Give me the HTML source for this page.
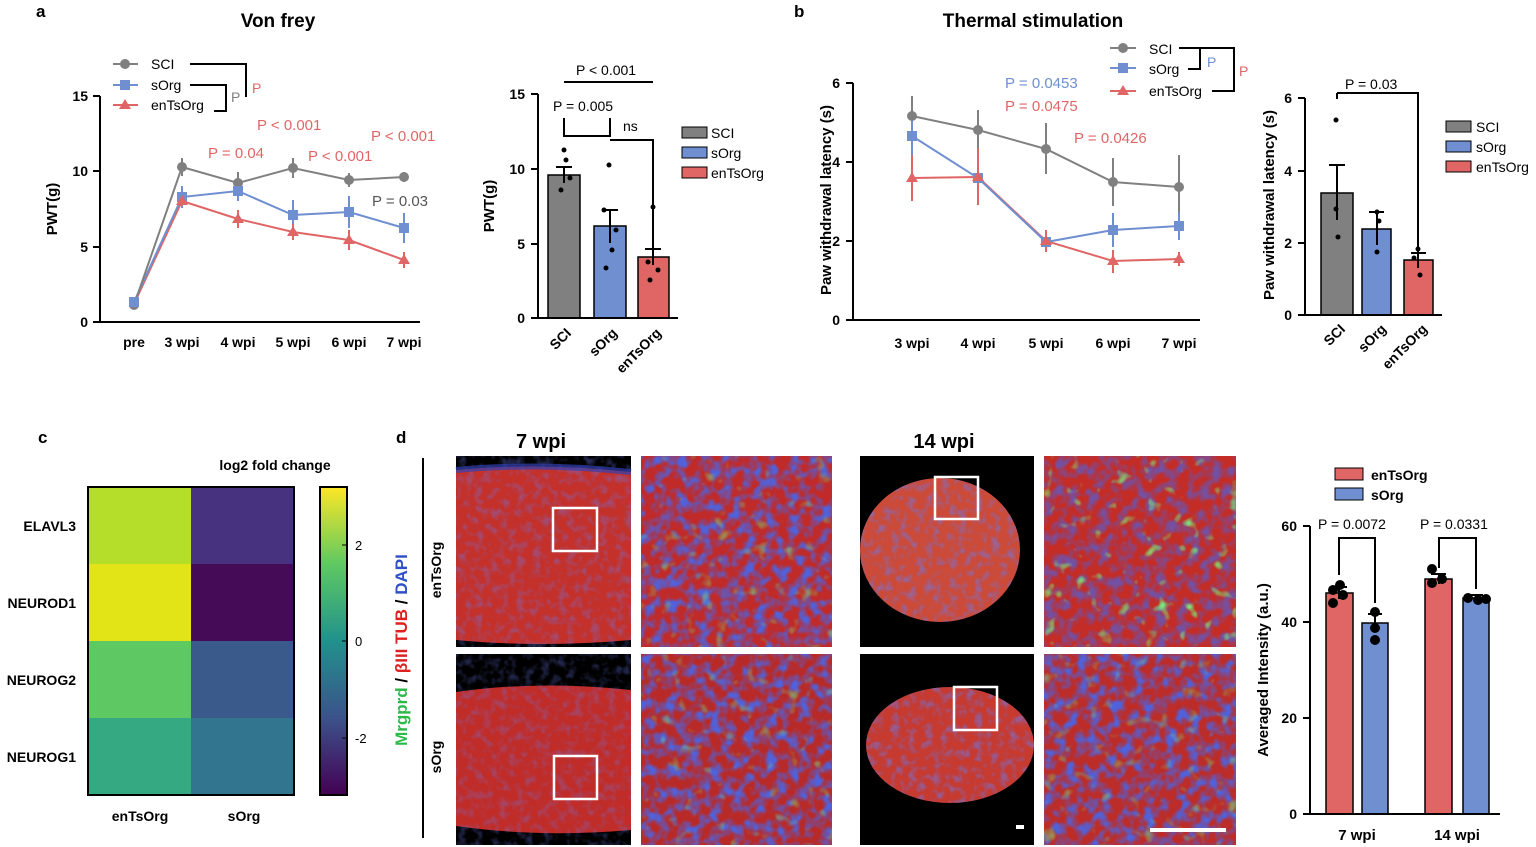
<!DOCTYPE html>
<html><head><meta charset="utf-8"><style>
body{margin:0;background:#fff}
svg{display:block;font-family:"Liberation Sans",Arial,sans-serif}
</style></head><body>
<svg width="1536" height="847" viewBox="0 0 1536 847" xmlns="http://www.w3.org/2000/svg">
<defs>
<linearGradient id="vir" x1="0" y1="1" x2="0" y2="0">
<stop offset="0" stop-color="#440154"/><stop offset="0.25" stop-color="#3b528b"/><stop offset="0.5" stop-color="#21918c"/><stop offset="0.75" stop-color="#5ec962"/><stop offset="1" stop-color="#fde725"/>
</linearGradient>
<filter id="blu" x="0" y="0" width="100%" height="100%">
<feTurbulence type="fractalNoise" baseFrequency="0.12" numOctaves="2" seed="3"/>
<feColorMatrix values="0 0 0 0 0.15  0 0 0 0 0.2  0 0 0 0 0.85  3 0 0 0 -1.35"/>
</filter>
<filter id="blu2" x="0" y="0" width="100%" height="100%">
<feTurbulence type="fractalNoise" baseFrequency="0.09" numOctaves="2" seed="9"/>
<feColorMatrix values="0 0 0 0 0.08  0 0 0 0 0.12  0 0 0 0 0.7  3 0 0 0 -1.2"/>
</filter>
<filter id="grn" x="0" y="0" width="100%" height="100%">
<feTurbulence type="fractalNoise" baseFrequency="0.07" numOctaves="2" seed="21"/>
<feColorMatrix values="0 0 0 0 0.2  0 0 0 0 0.85  0 0 0 0 0.2  0 4 0 0 -2.5"/>
</filter>
<clipPath id="c1"><ellipse cx="940" cy="550" rx="80" ry="72"/></clipPath>
<clipPath id="c2"><ellipse cx="950" cy="745" rx="84" ry="58"/></clipPath>
</defs>
<g font-weight="bold" font-size="17" fill="#000">
<text x="36" y="17">a</text><text x="794" y="17">b</text><text x="38" y="443">c</text><text x="396" y="443">d</text>
</g>
<text x="278" y="27" font-size="19" font-weight="bold" text-anchor="middle">Von frey</text>
<text x="1033" y="27" font-size="19" font-weight="bold" text-anchor="middle">Thermal stimulation</text>

<g stroke="#000" stroke-width="2" fill="none">
<path d="M100 96V322H420"/>
<path d="M93 96H100M93 171H100M93 247H100M93 322H100"/>
</g>
<g font-size="14" font-weight="bold" text-anchor="end"><text x="88" y="101">15</text><text x="88" y="176">10</text><text x="88" y="252">5</text><text x="88" y="327">0</text></g>
<text transform="translate(57,209) rotate(-90)" font-size="15" font-weight="bold" text-anchor="middle">PWT(g)</text>
<g font-size="14" font-weight="bold" text-anchor="middle">
<text x="134" y="347">pre</text><text x="182" y="347">3 wpi</text><text x="238" y="347">4 wpi</text><text x="293" y="347">5 wpi</text><text x="349" y="347">6 wpi</text><text x="404" y="347">7 wpi</text></g>
<g stroke-width="2" fill="none">
<polyline stroke="#e06666" points="134,304 182,201 238,219 293,232 349,240 404,260"/>
<polyline stroke="#6f8fd0" points="134,302 182,197 238,191 293,215 349,212 404,228"/>
<polyline stroke="#808080" points="134,305 182,167 238,183 293,168 349,180 404,177"/>
<path stroke="#808080" d="M182 158V176M238 172V194M293 158V178M349 173V187M404 172V182"/>
<path stroke="#6f8fd0" d="M182 186V208M238 181V201M293 200V230M349 196V228M404 213V243"/>
<path stroke="#e06666" d="M182 196V206M238 210V228M293 224V240M349 230V250M404 252V268"/>
</g>
<g fill="#808080"><circle cx="134" cy="305" r="5"/><circle cx="182" cy="167" r="5"/><circle cx="238" cy="183" r="5"/><circle cx="293" cy="168" r="5"/><circle cx="349" cy="180" r="5"/><circle cx="404" cy="177" r="5"/></g>
<g fill="#6f8fd0"><rect x="129" y="297" width="10" height="10"/><rect x="177" y="192" width="10" height="10"/><rect x="233" y="186" width="10" height="10"/><rect x="288" y="210" width="10" height="10"/><rect x="344" y="207" width="10" height="10"/><rect x="399" y="223" width="10" height="10"/></g>
<g fill="#e06666"><path d="M182 195l6 10h-12z M238 213l6 10h-12z M293 226l6 10h-12z M349 234l6 10h-12z M404 254l6 10h-12z"/></g>
<g stroke-width="2"><path stroke="#808080" d="M113 64H138"/><path stroke="#6f8fd0" d="M113 85H138"/><path stroke="#e06666" d="M113 105H138"/></g>
<circle cx="125" cy="64" r="5" fill="#808080"/><rect x="120" y="80" width="10" height="10" fill="#6f8fd0"/><path d="M125 99l6 10h-12z" fill="#e06666"/>
<g font-size="14"><text x="151" y="69">SCI</text><text x="151" y="90">sOrg</text><text x="151" y="110">enTsOrg</text></g>
<path d="M190 64H246V97M190 85H226V111H214" stroke="#000" stroke-width="2" fill="none"/>
<text x="231" y="102" font-size="14" fill="#808080">P</text><text x="252" y="93" font-size="14" fill="#e06666">P</text>
<g font-size="15" fill="#e06666"><text x="257" y="130">P &lt; 0.001</text><text x="371" y="141">P &lt; 0.001</text><text x="208" y="158">P = 0.04</text><text x="308" y="161">P &lt; 0.001</text></g>
<text x="372" y="206" font-size="15" fill="#555">P = 0.03</text>

<rect x="548" y="175" width="32" height="143" fill="#808080" stroke="#000" stroke-width="1.5"/>
<rect x="594" y="226" width="32" height="92" fill="#6f8fd0" stroke="#000" stroke-width="1.5"/>
<rect x="638" y="257" width="31" height="61" fill="#e06666" stroke="#000" stroke-width="1.5"/>
<g stroke="#000" stroke-width="2" fill="none">
<path d="M538 94V318H678M531 94H538M531 169H538M531 244H538M531 318H538"/>
<path d="M556 167H572M564 167V183M602 210H618M610 210V243M645 249H661M653 249V265"/>
<path d="M564 118V136H610V118M564 82H653M610 140H653V248"/>
</g>
<g fill="#000"><circle cx="564" cy="150" r="2.5"/><circle cx="566" cy="160" r="2.5"/><circle cx="561" cy="190" r="2.5"/><circle cx="570" cy="178" r="2.5"/><circle cx="609" cy="165" r="2.5"/><circle cx="604" cy="210" r="2.5"/><circle cx="612" cy="250" r="2.5"/><circle cx="606" cy="268" r="2.5"/><circle cx="616" cy="230" r="2.5"/><circle cx="653" cy="207" r="2.5"/><circle cx="648" cy="262" r="2.5"/><circle cx="658" cy="270" r="2.5"/><circle cx="650" cy="280" r="2.5"/></g>
<g font-size="14" font-weight="bold" text-anchor="end"><text x="525" y="99">15</text><text x="525" y="174">10</text><text x="525" y="249">5</text><text x="525" y="323">0</text></g>
<text transform="translate(494,206) rotate(-90)" font-size="15" font-weight="bold" text-anchor="middle">PWT(g)</text>
<g font-size="14" font-weight="bold" text-anchor="end">
<text transform="translate(572,334) rotate(-45)">SCI</text><text transform="translate(618,334) rotate(-45)">sOrg</text><text transform="translate(662,334) rotate(-45)">enTsOrg</text></g>
<g font-size="14"><text x="576" y="75">P &lt; 0.001</text><text x="553" y="111">P = 0.005</text><text x="623" y="131">ns</text></g>
<rect x="682" y="127" width="25" height="11" fill="#808080" stroke="#000"/><rect x="682" y="147" width="25" height="11" fill="#6f8fd0" stroke="#000"/><rect x="682" y="167" width="25" height="11" fill="#e06666" stroke="#000"/>
<g font-size="14"><text x="711" y="138">SCI</text><text x="711" y="158">sOrg</text><text x="711" y="178">enTsOrg</text></g>

<g stroke="#000" stroke-width="2" fill="none">
<path d="M853 83V320H1200M846 83H853M846 162H853M846 241H853M846 320H853"/>
</g>
<g font-size="14" font-weight="bold" text-anchor="end"><text x="840" y="88">6</text><text x="840" y="167">4</text><text x="840" y="246">2</text><text x="840" y="325">0</text></g>
<text transform="translate(831,200) rotate(-90)" font-size="15" font-weight="bold" text-anchor="middle">Paw withdrawal latency (s)</text>
<g font-size="14" font-weight="bold" text-anchor="middle"><text x="912" y="348">3 wpi</text><text x="978" y="348">4 wpi</text><text x="1046" y="348">5 wpi</text><text x="1113" y="348">6 wpi</text><text x="1179" y="348">7 wpi</text></g>
<g stroke-width="2" fill="none">
<polyline stroke="#e06666" points="912,178 978,177 1046,241 1113,261 1179,259"/>
<polyline stroke="#6f8fd0" points="912,136 978,178 1046,242 1113,230 1179,226"/>
<polyline stroke="#808080" points="912,116 978,130 1046,149 1113,182 1179,187"/>
<path stroke="#808080" d="M912 96V136M978 110V150M1046 123V174M1113 158V206M1179 155V219"/>
<path stroke="#6f8fd0" d="M912 118V155M978 150V205M1046 236V248M1113 213V247M1179 212V240"/>
<path stroke="#e06666" d="M912 155V201M978 148V205M1046 230V252M1113 250V273M1179 252V266"/>
</g>
<g fill="#808080"><circle cx="912" cy="116" r="5"/><circle cx="978" cy="130" r="5"/><circle cx="1046" cy="149" r="5"/><circle cx="1113" cy="182" r="5"/><circle cx="1179" cy="187" r="5"/></g>
<g fill="#6f8fd0"><rect x="907" y="131" width="10" height="10"/><rect x="973" y="173" width="10" height="10"/><rect x="1041" y="237" width="10" height="10"/><rect x="1108" y="225" width="10" height="10"/><rect x="1174" y="221" width="10" height="10"/></g>
<path fill="#e06666" d="M912 172l6 10h-12z M978 171l6 10h-12z M1046 235l6 10h-12z M1113 255l6 10h-12z M1179 253l6 10h-12z"/>
<g stroke-width="2"><path stroke="#808080" d="M1110 48H1136"/><path stroke="#6f8fd0" d="M1110 68H1136"/><path stroke="#e06666" d="M1110 91H1136"/></g>
<circle cx="1123" cy="48" r="5" fill="#808080"/><rect x="1118" y="63" width="10" height="10" fill="#6f8fd0"/><path d="M1123 85l6 10h-12z" fill="#e06666"/>
<g font-size="14"><text x="1149" y="54">SCI</text><text x="1149" y="74">sOrg</text><text x="1149" y="96">enTsOrg</text></g>
<path d="M1179 48H1234V91H1212M1185 48H1200V69H1188" stroke="#000" stroke-width="2" fill="none"/>
<text x="1207" y="67" font-size="14" fill="#6f8fd0">P</text><text x="1239" y="76" font-size="14" fill="#e06666">P</text>
<g font-size="15"><text x="1005" y="88" fill="#6f8fd0">P = 0.0453</text><text x="1005" y="111" fill="#e06666">P = 0.0475</text><text x="1074" y="143" fill="#e06666">P = 0.0426</text></g>

<rect x="1321" y="193" width="32" height="122" fill="#808080" stroke="#000" stroke-width="1.5"/>
<rect x="1362" y="229" width="29" height="86" fill="#6f8fd0" stroke="#000" stroke-width="1.5"/>
<rect x="1404" y="260" width="29" height="55" fill="#e06666" stroke="#000" stroke-width="1.5"/>
<g stroke="#000" stroke-width="2" fill="none">
<path d="M1305 98V315H1442M1298 98H1305M1298 171H1305M1298 243H1305M1298 315H1305"/>
<path d="M1329 165H1345M1337 165V220M1369 212H1384M1377 212V245M1411 253H1426M1418 253V268M1337 93V99M1337 93H1418V253"/>
</g>
<g fill="#000"><circle cx="1336" cy="120" r="2.5"/><circle cx="1336" cy="209" r="2.5"/><circle cx="1338" cy="237" r="2.5"/><circle cx="1377" cy="212" r="2.5"/><circle cx="1379" cy="221" r="2.5"/><circle cx="1377" cy="252" r="2.5"/><circle cx="1418" cy="249" r="2.5"/><circle cx="1414" cy="258" r="2.5"/><circle cx="1420" cy="275" r="2.5"/></g>
<g font-size="14" font-weight="bold" text-anchor="end"><text x="1292" y="103">6</text><text x="1292" y="176">4</text><text x="1292" y="248">2</text><text x="1292" y="320">0</text></g>
<text transform="translate(1274,205) rotate(-90)" font-size="15" font-weight="bold" text-anchor="middle">Paw withdrawal latency (s)</text>
<g font-size="14" font-weight="bold" text-anchor="end">
<text transform="translate(1346,330) rotate(-45)">SCI</text><text transform="translate(1387,330) rotate(-45)">sOrg</text><text transform="translate(1428,330) rotate(-45)">enTsOrg</text></g>
<text x="1345" y="89" font-size="14">P = 0.03</text>
<rect x="1446" y="121" width="25" height="11" fill="#808080" stroke="#000"/><rect x="1446" y="141" width="25" height="11" fill="#6f8fd0" stroke="#000"/><rect x="1446" y="161" width="25" height="11" fill="#e06666" stroke="#000"/>
<g font-size="14"><text x="1476" y="132">SCI</text><text x="1476" y="152">sOrg</text><text x="1476" y="172">enTsOrg</text></g>

<rect x="88" y="487" width="103" height="77" fill="#b5de2b"/><rect x="191" y="487" width="103" height="77" fill="#46327e"/>
<rect x="88" y="564" width="103" height="77" fill="#e2e418"/><rect x="191" y="564" width="103" height="77" fill="#450b57"/>
<rect x="88" y="641" width="103" height="77" fill="#5ec962"/><rect x="191" y="641" width="103" height="77" fill="#3a5a8c"/>
<rect x="88" y="718" width="103" height="77" fill="#35a982"/><rect x="191" y="718" width="103" height="77" fill="#31768e"/>
<rect x="88" y="487" width="206" height="308" fill="none" stroke="#000" stroke-width="2"/>
<g font-size="14" font-weight="bold" text-anchor="end"><text x="76" y="531">ELAVL3</text><text x="76" y="608">NEUROD1</text><text x="76" y="685">NEUROG2</text><text x="76" y="762">NEUROG1</text></g>
<g font-size="14" font-weight="bold" text-anchor="middle"><text x="140" y="821">enTsOrg</text><text x="244" y="821">sOrg</text></g>
<text x="275" y="470" font-size="14" font-weight="bold" text-anchor="middle">log2 fold change</text>
<rect x="320" y="487" width="27" height="308" fill="url(#vir)" stroke="#000" stroke-width="2"/>
<g font-size="13" fill="#000"><text x="355" y="550">2</text><text x="355" y="646">0</text><text x="355" y="743">-2</text></g>
<path d="M347 545h-5M347 641h-5M347 738h-5" stroke="#000"/>

<text x="541" y="448" font-size="20" font-weight="bold" text-anchor="middle">7 wpi</text>
<text x="944" y="448" font-size="20" font-weight="bold" text-anchor="middle">14 wpi</text>
<path d="M423 458V838" stroke="#000" stroke-width="2"/>
<text transform="translate(441,570) rotate(-90)" font-size="14" font-weight="bold" text-anchor="middle">enTsOrg</text>
<text transform="translate(441,757) rotate(-90)" font-size="14" font-weight="bold" text-anchor="middle">sOrg</text>
<text transform="translate(407,650) rotate(-90)" font-size="17" font-weight="bold" text-anchor="middle"><tspan fill="#2db84a">Mrgprd</tspan><tspan fill="#000"> / </tspan><tspan fill="#e02020">βIII TUB</tspan><tspan fill="#000"> / </tspan><tspan fill="#3050c8">DAPI</tspan></text>

<rect x="456" y="456" width="175" height="191" fill="#000"/>
<path d="M456 470 Q540 462 631 472 V640 Q540 648 456 640Z" fill="#c4302a"/>
<rect x="456" y="456" width="175" height="191" fill="#000" filter="url(#blu)" opacity="0.35"/>
<path d="M456 470 Q540 462 631 472" stroke="#3040b0" stroke-width="6" fill="none" opacity="0.7"/>
<rect x="641" y="456" width="191" height="191" fill="#c02a28"/>
<rect x="641" y="456" width="191" height="191" filter="url(#blu2)"/>
<rect x="641" y="456" width="191" height="191" filter="url(#grn)" opacity="0.5"/>
<rect x="456" y="654" width="175" height="191" fill="#000"/>
<path d="M456 692 Q540 680 631 690 V830 Q540 838 456 826Z" fill="#c02c28"/>
<rect x="456" y="654" width="175" height="191" fill="#000" filter="url(#blu)" opacity="0.3"/>
<rect x="641" y="654" width="191" height="191" fill="#b82a28"/>
<rect x="641" y="654" width="191" height="191" filter="url(#blu2)"/>
<rect x="641" y="654" width="191" height="191" filter="url(#grn)" opacity="0.5"/>
<rect x="860" y="456" width="174" height="191" fill="#000"/>
<g clip-path="url(#c1)"><rect x="860" y="470" width="174" height="160" fill="#cc4a38"/><rect x="860" y="470" width="174" height="160" filter="url(#blu)" opacity="0.5"/></g>
<rect x="1044" y="456" width="192" height="191" fill="#c42c26"/>
<rect x="1044" y="456" width="192" height="191" filter="url(#blu2)" opacity="0.7"/>
<rect x="1044" y="456" width="192" height="191" filter="url(#grn)"/>
<rect x="860" y="654" width="174" height="191" fill="#000"/>
<g clip-path="url(#c2)"><rect x="860" y="680" width="174" height="130" fill="#c63a30"/><rect x="860" y="680" width="174" height="130" filter="url(#blu)" opacity="0.5"/></g>
<rect x="1044" y="654" width="192" height="191" fill="#bc2c28"/>
<rect x="1044" y="654" width="192" height="191" filter="url(#blu2)"/>
<rect x="1044" y="654" width="192" height="191" filter="url(#grn)" opacity="0.5"/>
<g fill="none" stroke="#fff" stroke-width="2.5">
<rect x="553" y="508" width="44" height="43"/><rect x="554" y="756" width="43" height="43"/>
<rect x="935" y="477" width="43" height="42"/><rect x="954" y="687" width="43" height="43"/>
</g>
<path d="M1150 830H1226M1016 827h8" stroke="#fff" stroke-width="4"/>

<rect x="1326" y="593" width="27" height="221" fill="#e06666" stroke="#000" stroke-width="1.5"/>
<rect x="1362" y="623" width="26" height="191" fill="#6f8fd0" stroke="#000" stroke-width="1.5"/>
<rect x="1425" y="579" width="27" height="235" fill="#e06666" stroke="#000" stroke-width="1.5"/>
<rect x="1463" y="598" width="26" height="216" fill="#6f8fd0" stroke="#000" stroke-width="1.5"/>
<g stroke="#000" stroke-width="2" fill="none">
<path d="M1310 526V814H1500M1303 526H1310M1303 622H1310M1303 718H1310M1303 814H1310"/>
<path d="M1332 587H1347M1339 587V599M1368 614H1382M1375 614V632M1431 574H1446M1439 574V584M1469 595H1483M1476 595V601"/>
<path d="M1339 575V538H1375V603M1439 568V538H1476V589"/>
</g>
<g fill="#000"><circle cx="1333" cy="590" r="5"/><circle cx="1343" cy="595" r="5"/><circle cx="1333" cy="603" r="5"/><circle cx="1340" cy="585" r="5"/><circle cx="1375" cy="612" r="5"/><circle cx="1375" cy="628" r="5"/><circle cx="1375" cy="640" r="5"/><circle cx="1432" cy="569" r="5"/><circle cx="1442" cy="579" r="5"/><circle cx="1432" cy="583" r="5"/><circle cx="1468" cy="598" r="5"/><circle cx="1478" cy="600" r="5"/><circle cx="1486" cy="599" r="5"/></g>
<g font-size="14" font-weight="bold" text-anchor="end"><text x="1297" y="531">60</text><text x="1297" y="627">40</text><text x="1297" y="723">20</text><text x="1297" y="819">0</text></g>
<text transform="translate(1268,670) rotate(-90)" font-size="15" font-weight="bold" text-anchor="middle">Averaged Intensity (a.u.)</text>
<g font-size="15" font-weight="bold" text-anchor="middle"><text x="1357" y="840">7 wpi</text><text x="1457" y="840">14 wpi</text></g>
<g font-size="14"><text x="1318" y="529">P = 0.0072</text><text x="1420" y="529">P = 0.0331</text></g>
<rect x="1335" y="468" width="28" height="12" fill="#e06666" stroke="#000"/><rect x="1335" y="488" width="28" height="12" fill="#6f8fd0" stroke="#000"/>
<g font-size="14" font-weight="bold"><text x="1371" y="480">enTsOrg</text><text x="1371" y="500">sOrg</text></g>
</svg>
</body></html>
